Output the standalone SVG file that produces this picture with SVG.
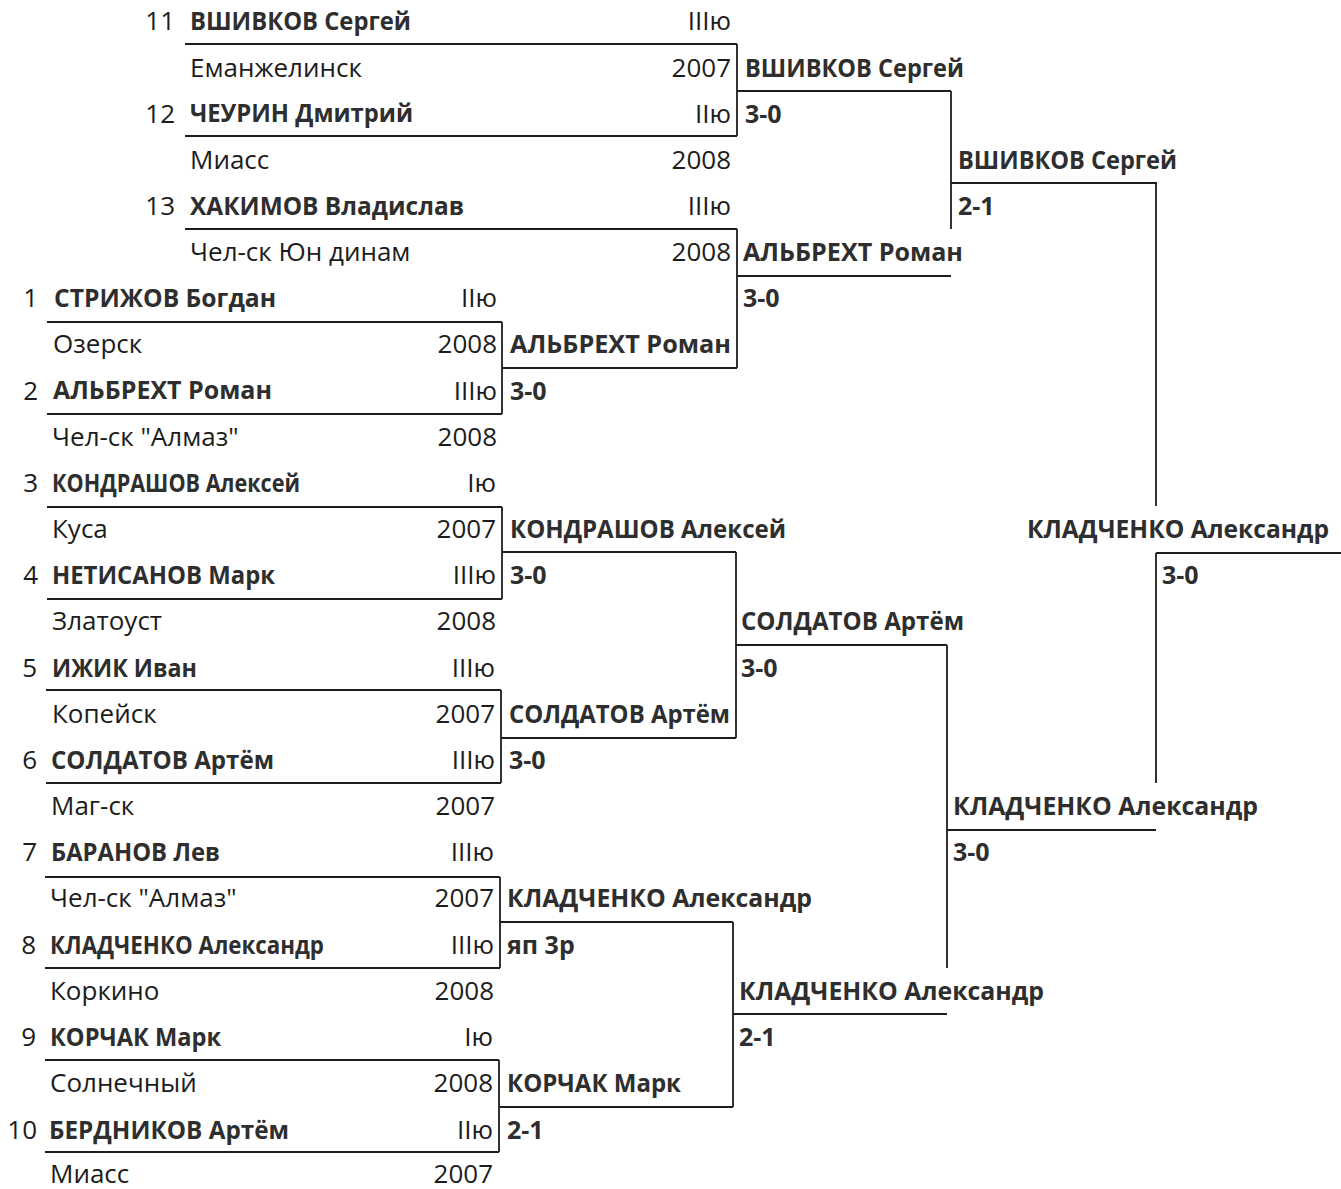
<svg xmlns="http://www.w3.org/2000/svg" width="1341" height="1189" viewBox="0 0 1341 1189">
<style>
text{font-family:"Open Sans","Noto Sans","DejaVu Sans",sans-serif;font-size:26px;fill:#1c1c1c}
.b{font-weight:700;font-size:25px;fill:#2e2e2e}
.e{text-anchor:end}
.ln{stroke:#1e1e1e;stroke-width:1.8;fill:none}
</style>
<rect width="1341" height="1189" fill="#ffffff"/>
<g id="connectors" class="ln">
<path d="M185 44H737M185 136H737M737 44V136M737 91H951M951 91V229M951 183H1157"/>
<path d="M185 229H737M737 229V368M737 276H951"/>
<path d="M47 322H502M47 414H502M502 322V414M502 368H737"/>
<path d="M47 507H502M47 599H502M502 507V599M502 552H736"/>
<path d="M46 690H501M46 783H501M501 690V783M501 738H736M736 552V738M736 645H947"/>
<path d="M45 877H500M45 968H500M500 877V968M500 922H733"/>
<path d="M45 1060H499M45 1152H499M499 1060V1152M499 1107H733M733 922V1107M733 1014H947"/>
<path d="M947 645V968M947 830H1156"/>
<path d="M1156 183V506M1156 553V783M1156 553H1341"/>
</g>
<g id="p11"><text x="175" y="30" class="e">11</text><text x="190" y="30" class="b" textLength="221" lengthAdjust="spacingAndGlyphs">ВШИВКОВ Сергей</text><text x="731" y="30" class="e">IIIю</text><text x="190" y="77">Еманжелинск</text><text x="731" y="77" class="e">2007</text></g>
<g id="p12"><text x="175" y="123" class="e">12</text><text x="190" y="122" class="b" textLength="223" lengthAdjust="spacingAndGlyphs">ЧЕУРИН Дмитрий</text><text x="731" y="123" class="e">IIю</text><text x="190" y="169">Миасс</text><text x="731" y="169" class="e">2008</text></g>
<g id="p13"><text x="175" y="215" class="e">13</text><text x="190" y="215" class="b" textLength="274" lengthAdjust="spacingAndGlyphs">ХАКИМОВ Владислав</text><text x="731" y="215" class="e">IIIю</text><text x="190" y="261">Чел-ск Юн динам</text><text x="731" y="261" class="e">2008</text></g>
<g id="p1"><text x="38" y="307" class="e">1</text><text x="54" y="307" class="b" textLength="222" lengthAdjust="spacingAndGlyphs">СТРИЖОВ Богдан</text><text x="497" y="307" class="e">IIю</text><text x="53" y="353">Озерск</text><text x="497" y="353" class="e">2008</text></g>
<g id="p2"><text x="38" y="400" class="e">2</text><text x="53" y="399" class="b" textLength="219" lengthAdjust="spacingAndGlyphs">АЛЬБРЕХТ Роман</text><text x="497" y="400" class="e">IIIю</text><text x="52" y="446">Чел-ск "Алмаз"</text><text x="497" y="446" class="e">2008</text></g>
<g id="p3"><text x="38" y="492" class="e">3</text><text x="52" y="492" class="b" textLength="248" lengthAdjust="spacingAndGlyphs">КОНДРАШОВ Алексей</text><text x="496" y="492" class="e">Iю</text><text x="52" y="538">Куса</text><text x="496" y="538" class="e">2007</text></g>
<g id="p4"><text x="38" y="584" class="e">4</text><text x="52" y="584" class="b" textLength="223" lengthAdjust="spacingAndGlyphs">НЕТИСАНОВ Марк</text><text x="496" y="584" class="e">IIIю</text><text x="52" y="630">Златоуст</text><text x="496" y="630" class="e">2008</text></g>
<g id="p5"><text x="37" y="677" class="e">5</text><text x="52" y="677" class="b" textLength="145" lengthAdjust="spacingAndGlyphs">ИЖИК Иван</text><text x="495" y="677" class="e">IIIю</text><text x="52" y="723">Копейск</text><text x="495" y="723" class="e">2007</text></g>
<g id="p6"><text x="37" y="769" class="e">6</text><text x="51" y="769" class="b" textLength="223" lengthAdjust="spacingAndGlyphs">СОЛДАТОВ Артём</text><text x="495" y="769" class="e">IIIю</text><text x="51" y="815">Маг-ск</text><text x="495" y="815" class="e">2007</text></g>
<g id="p7"><text x="37" y="861" class="e">7</text><text x="51" y="861" class="b" textLength="169" lengthAdjust="spacingAndGlyphs">БАРАНОВ Лев</text><text x="494" y="861" class="e">IIIю</text><text x="50" y="907">Чел-ск "Алмаз"</text><text x="494" y="907" class="e">2007</text></g>
<g id="p8"><text x="36" y="954" class="e">8</text><text x="50" y="954" class="b" textLength="274" lengthAdjust="spacingAndGlyphs">КЛАДЧЕНКО Александр</text><text x="494" y="954" class="e">IIIю</text><text x="50" y="1000">Коркино</text><text x="494" y="1000" class="e">2008</text></g>
<g id="p9"><text x="36" y="1046" class="e">9</text><text x="50" y="1046" class="b" textLength="171" lengthAdjust="spacingAndGlyphs">КОРЧАК Марк</text><text x="493" y="1046" class="e">Iю</text><text x="50" y="1092">Солнечный</text><text x="493" y="1092" class="e">2008</text></g>
<g id="p10"><text x="37" y="1139" class="e">10</text><text x="49" y="1139" class="b" textLength="240" lengthAdjust="spacingAndGlyphs">БЕРДНИКОВ Артём</text><text x="493" y="1139" class="e">IIю</text><text x="50" y="1183">Миасс</text><text x="493" y="1183" class="e">2007</text></g>
<g id="w-r2-1"><text x="745" y="77" class="b" textLength="219" lengthAdjust="spacingAndGlyphs">ВШИВКОВ Сергей</text><text x="745" y="123" class="b">3-0</text></g>
<g id="w-r2-2"><text x="743" y="261" class="b" textLength="220" lengthAdjust="spacingAndGlyphs">АЛЬБРЕХТ Роман</text><text x="743" y="307" class="b">3-0</text></g>
<g id="w-r1-1"><text x="510" y="353" class="b" textLength="221" lengthAdjust="spacingAndGlyphs">АЛЬБРЕХТ Роман</text><text x="510" y="400" class="b">3-0</text></g>
<g id="w-r1-2"><text x="510" y="538" class="b" textLength="276" lengthAdjust="spacingAndGlyphs">КОНДРАШОВ Алексей</text><text x="510" y="584" class="b">3-0</text></g>
<g id="w-r1-3"><text x="509" y="723" class="b" textLength="221" lengthAdjust="spacingAndGlyphs">СОЛДАТОВ Артём</text><text x="509" y="769" class="b">3-0</text></g>
<g id="w-r1-4"><text x="507" y="907" class="b" textLength="305" lengthAdjust="spacingAndGlyphs">КЛАДЧЕНКО Александр</text><text x="507" y="954" class="b">яп 3р</text></g>
<g id="w-r1-5"><text x="507" y="1092" class="b" textLength="174" lengthAdjust="spacingAndGlyphs">КОРЧАК Марк</text><text x="507" y="1139" class="b">2-1</text></g>
<g id="w-r2-3"><text x="741" y="630" class="b" textLength="223" lengthAdjust="spacingAndGlyphs">СОЛДАТОВ Артём</text><text x="741" y="677" class="b">3-0</text></g>
<g id="w-r2-4"><text x="739" y="1000" class="b" textLength="305" lengthAdjust="spacingAndGlyphs">КЛАДЧЕНКО Александр</text><text x="739" y="1046" class="b">2-1</text></g>
<g id="w-r3-1"><text x="958" y="169" class="b" textLength="219" lengthAdjust="spacingAndGlyphs">ВШИВКОВ Сергей</text><text x="958" y="215" class="b">2-1</text></g>
<g id="w-r3-2"><text x="953" y="815" class="b" textLength="305" lengthAdjust="spacingAndGlyphs">КЛАДЧЕНКО Александр</text><text x="953" y="861" class="b">3-0</text></g>
<g id="w-final"><text x="1027" y="538" class="b" textLength="302" lengthAdjust="spacingAndGlyphs">КЛАДЧЕНКО Александр</text><text x="1162" y="584" class="b">3-0</text></g>
</svg>
